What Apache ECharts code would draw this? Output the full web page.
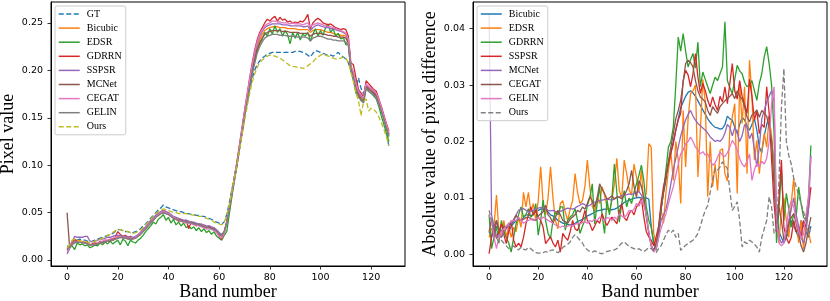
<!DOCTYPE html>
<html><head><meta charset="utf-8">
<script src="https://cdn.jsdelivr.net/npm/echarts@6/dist/echarts.min.js"></script>
<style>html,body{margin:0;padding:0;background:#fff}#c{width:830px;height:301px}</style>
</head><body><div id="c"></div>
<script>
// ---------- tick labels ----------
const xTicks = [0, 20, 40, 60, 80, 100, 120];
const leftYTicks = [0, 0.05, 0.10, 0.15, 0.20, 0.25];
const rightYTicks = [0, 0.01, 0.02, 0.03, 0.04];

// ---------- left panel: pixel value per band (bands 0..127) ----------
const leftNames = ['GT', 'Bicubic', 'EDSR', 'GDRRN', 'SSPSR', 'MCNet', 'CEGAT', 'GELIN', 'Ours'];
const gtL = [
0.015,0.013,0.019,0.022,0.021,0.022,0.021,0.021,0.020,0.019,
0.020,0.021,0.022,0.023,0.024,0.025,0.026,0.027,0.028,0.030,
0.032,0.032,0.031,0.030,0.030,0.029,0.029,0.030,0.031,0.033,
0.036,0.038,0.041,0.044,0.047,0.050,0.053,0.055,0.058,0.056,
0.055,0.054,0.053,0.052,0.051,0.051,0.050,0.049,0.049,0.048,
0.048,0.047,0.047,0.046,0.046,0.045,0.044,0.043,0.041,0.040,
0.039,0.038,0.040,0.048,0.060,0.074,0.088,0.102,0.118,0.134,
0.150,0.165,0.179,0.191,0.200,0.206,0.210,0.213,0.215,0.217,
0.218,0.219,0.219,0.219,0.219,0.219,0.219,0.219,0.219,0.219,
0.220,0.220,0.220,0.219,0.218,0.216,0.214,0.218,0.221,0.220,
0.219,0.218,0.217,0.216,0.216,0.215,0.217,0.219,0.216,0.214,
0.212,0.208,0.200,0.190,0.182,0.192,0.181,0.175,0.186,0.182,
0.179,0.176,0.171,0.165,0.158,0.150,0.137,0.119];
const bicubicL = [
0.011,0.014,0.018,0.020,0.021,0.020,0.019,0.019,0.018,0.016,
0.016,0.017,0.018,0.019,0.019,0.020,0.021,0.021,0.022,0.023,
0.025,0.025,0.024,0.024,0.023,0.023,0.023,0.024,0.026,0.028,
0.031,0.034,0.037,0.040,0.043,0.046,0.048,0.050,0.051,0.050,
0.049,0.047,0.045,0.044,0.043,0.042,0.041,0.041,0.040,0.040,
0.039,0.038,0.038,0.037,0.036,0.035,0.035,0.034,0.033,0.031,
0.028,0.026,0.030,0.040,0.055,0.070,0.086,0.101,0.119,0.136,
0.153,0.169,0.186,0.201,0.214,0.225,0.232,0.238,0.242,0.244,
0.245,0.246,0.246,0.246,0.245,0.245,0.245,0.244,0.244,0.244,
0.244,0.243,0.243,0.243,0.243,0.243,0.240,0.242,0.243,0.243,
0.243,0.242,0.241,0.240,0.240,0.239,0.238,0.238,0.237,0.237,
0.236,0.231,0.203,0.195,0.183,0.176,0.172,0.170,0.184,0.181,
0.179,0.177,0.174,0.167,0.159,0.150,0.141,0.132];
const edsrL = [
0.010,0.013,0.015,0.011,0.018,0.016,0.017,0.015,0.016,0.013,
0.014,0.016,0.015,0.018,0.016,0.019,0.017,0.020,0.017,0.019,
0.021,0.016,0.022,0.020,0.015,0.021,0.019,0.018,0.021,0.023,
0.026,0.030,0.033,0.036,0.040,0.038,0.043,0.045,0.048,0.042,
0.045,0.039,0.043,0.037,0.040,0.036,0.039,0.034,0.036,0.033,
0.035,0.031,0.034,0.030,0.033,0.029,0.031,0.027,0.030,0.025,
0.023,0.021,0.026,0.030,0.048,0.066,0.083,0.099,0.117,0.134,
0.151,0.167,0.183,0.197,0.209,0.220,0.228,0.233,0.240,0.236,
0.244,0.238,0.247,0.240,0.244,0.236,0.242,0.238,0.228,0.240,
0.234,0.240,0.232,0.238,0.236,0.240,0.231,0.238,0.244,0.236,
0.242,0.237,0.245,0.249,0.240,0.244,0.236,0.239,0.233,0.235,
0.227,0.228,0.200,0.190,0.176,0.174,0.169,0.166,0.181,0.178,
0.176,0.173,0.170,0.162,0.152,0.143,0.134,0.125];
const gdrrnL = [
0.012,0.015,0.019,0.022,0.019,0.020,0.019,0.018,0.019,0.016,
0.017,0.018,0.017,0.020,0.019,0.021,0.020,0.022,0.021,0.024,
0.030,0.027,0.025,0.026,0.024,0.025,0.023,0.024,0.026,0.029,
0.032,0.035,0.038,0.041,0.044,0.047,0.049,0.051,0.052,0.051,
0.049,0.047,0.044,0.043,0.041,0.043,0.040,0.042,0.033,0.040,
0.039,0.036,0.038,0.036,0.035,0.033,0.036,0.033,0.034,0.030,
0.025,0.022,0.029,0.040,0.056,0.072,0.087,0.103,0.121,0.139,
0.157,0.174,0.191,0.207,0.221,0.232,0.240,0.245,0.250,0.254,
0.252,0.255,0.257,0.252,0.256,0.253,0.254,0.251,0.252,0.250,
0.251,0.250,0.252,0.251,0.254,0.259,0.244,0.250,0.253,0.255,
0.253,0.250,0.249,0.248,0.249,0.247,0.245,0.244,0.243,0.244,
0.243,0.236,0.208,0.206,0.192,0.180,0.176,0.172,0.189,0.186,
0.183,0.180,0.178,0.170,0.162,0.153,0.144,0.136];
const sspsrL = [
0.0065,0.012,0.019,0.025,0.024,0.024,0.024,0.025,0.025,0.020,
0.019,0.020,0.021,0.022,0.022,0.023,0.024,0.024,0.025,0.026,
0.026,0.026,0.025,0.025,0.024,0.024,0.024,0.025,0.027,0.029,
0.032,0.035,0.038,0.042,0.045,0.047,0.049,0.051,0.052,0.051,
0.050,0.048,0.046,0.045,0.044,0.043,0.042,0.042,0.041,0.040,
0.040,0.039,0.038,0.038,0.037,0.036,0.036,0.035,0.034,0.032,
0.029,0.027,0.030,0.040,0.055,0.071,0.086,0.101,0.119,0.136,
0.154,0.171,0.188,0.203,0.217,0.228,0.236,0.241,0.245,0.247,
0.248,0.249,0.249,0.249,0.249,0.248,0.248,0.248,0.247,0.247,
0.247,0.247,0.247,0.246,0.246,0.247,0.242,0.245,0.247,0.248,
0.247,0.246,0.245,0.245,0.244,0.244,0.243,0.242,0.241,0.240,
0.238,0.232,0.204,0.197,0.185,0.177,0.173,0.171,0.185,0.182,
0.180,0.178,0.175,0.168,0.160,0.151,0.142,0.133];
const mcnetL = [
0.050,0.013,0.016,0.018,0.019,0.019,0.018,0.018,0.017,0.016,
0.016,0.016,0.017,0.018,0.018,0.019,0.020,0.020,0.021,0.022,
0.023,0.024,0.023,0.023,0.022,0.022,0.022,0.023,0.025,0.027,
0.030,0.033,0.036,0.039,0.042,0.045,0.047,0.049,0.050,0.049,
0.048,0.046,0.044,0.043,0.042,0.041,0.040,0.040,0.039,0.039,
0.038,0.037,0.037,0.036,0.035,0.034,0.034,0.033,0.032,0.030,
0.027,0.025,0.029,0.039,0.054,0.069,0.085,0.100,0.117,0.134,
0.151,0.167,0.183,0.198,0.211,0.222,0.229,0.234,0.238,0.240,
0.241,0.242,0.242,0.242,0.242,0.241,0.241,0.241,0.240,0.240,
0.240,0.240,0.239,0.239,0.239,0.239,0.236,0.238,0.239,0.239,
0.239,0.238,0.238,0.237,0.237,0.236,0.236,0.235,0.235,0.235,
0.234,0.229,0.202,0.193,0.181,0.174,0.170,0.168,0.183,0.180,
0.178,0.176,0.173,0.166,0.158,0.149,0.140,0.131];
const cegatL = [
0.009,0.013,0.017,0.019,0.020,0.019,0.019,0.018,0.018,0.016,
0.016,0.017,0.018,0.019,0.020,0.021,0.021,0.022,0.023,0.024,
0.024,0.025,0.024,0.024,0.023,0.023,0.023,0.024,0.026,0.028,
0.031,0.034,0.037,0.040,0.043,0.046,0.048,0.050,0.051,0.050,
0.049,0.047,0.045,0.043,0.042,0.041,0.040,0.039,0.039,0.038,
0.037,0.037,0.036,0.035,0.034,0.033,0.033,0.032,0.031,0.029,
0.025,0.023,0.028,0.039,0.055,0.071,0.087,0.102,0.120,0.138,
0.156,0.173,0.190,0.205,0.219,0.230,0.238,0.243,0.247,0.249,
0.250,0.252,0.252,0.251,0.251,0.250,0.250,0.250,0.249,0.250,
0.249,0.249,0.249,0.248,0.249,0.250,0.246,0.248,0.249,0.250,
0.249,0.248,0.247,0.246,0.246,0.245,0.244,0.243,0.242,0.241,
0.239,0.233,0.205,0.198,0.186,0.178,0.174,0.171,0.186,0.183,
0.181,0.179,0.176,0.169,0.161,0.152,0.143,0.134];
const gelinL = [
0.011,0.014,0.017,0.019,0.019,0.019,0.018,0.018,0.017,0.016,
0.016,0.017,0.017,0.018,0.019,0.019,0.020,0.021,0.021,0.022,
0.023,0.024,0.024,0.023,0.023,0.022,0.023,0.023,0.025,0.027,
0.030,0.033,0.036,0.039,0.042,0.045,0.047,0.049,0.050,0.049,
0.048,0.046,0.044,0.043,0.042,0.041,0.041,0.040,0.040,0.039,
0.038,0.038,0.037,0.036,0.035,0.035,0.034,0.033,0.032,0.031,
0.028,0.026,0.030,0.039,0.054,0.069,0.084,0.099,0.116,0.133,
0.150,0.166,0.181,0.195,0.207,0.218,0.225,0.230,0.234,0.236,
0.237,0.238,0.238,0.238,0.237,0.237,0.237,0.236,0.236,0.236,
0.236,0.235,0.235,0.235,0.235,0.234,0.231,0.234,0.235,0.236,
0.236,0.235,0.234,0.233,0.233,0.232,0.232,0.231,0.231,0.231,
0.230,0.226,0.200,0.191,0.179,0.172,0.168,0.166,0.181,0.178,
0.176,0.174,0.171,0.164,0.157,0.148,0.139,0.130];
const oursL = [
0.013,0.016,0.021,0.022,0.021,0.020,0.020,0.020,0.019,0.018,
0.019,0.020,0.021,0.022,0.023,0.024,0.026,0.027,0.029,0.031,
0.032,0.032,0.031,0.031,0.030,0.029,0.028,0.029,0.030,0.032,
0.034,0.037,0.040,0.043,0.046,0.049,0.051,0.053,0.054,0.053,
0.052,0.051,0.050,0.050,0.049,0.049,0.049,0.049,0.048,0.048,
0.047,0.047,0.046,0.046,0.045,0.044,0.043,0.042,0.040,0.039,
0.038,0.037,0.040,0.047,0.058,0.072,0.086,0.100,0.115,0.131,
0.146,0.161,0.175,0.187,0.196,0.203,0.208,0.211,0.213,0.215,
0.216,0.216,0.215,0.214,0.213,0.211,0.209,0.207,0.205,0.204,
0.204,0.203,0.203,0.202,0.203,0.205,0.207,0.209,0.212,0.214,
0.216,0.217,0.216,0.215,0.214,0.213,0.212,0.212,0.213,0.214,
0.213,0.208,0.198,0.188,0.176,0.168,0.152,0.167,0.170,0.157,
0.160,0.159,0.156,0.151,0.145,0.138,0.130,0.121];

// ---------- right panel: absolute difference per band (0..131) ----------
const rightNames = ['Bicubic', 'EDSR', 'GDRRN', 'SSPSR', 'MCNet', 'CEGAT', 'GELIN', 'Ours'];
const bicubicR = [
0.0040,0.0030,0.0050,0.0060,0.0040,0.0030,0.0040,0.0035,0.0040,0.0050,
0.0055,0.0060,0.0065,0.0060,0.0065,0.0070,0.0070,0.0068,0.0072,0.0075,
0.0078,0.0080,0.0080,0.0078,0.0075,0.0070,0.0068,0.0065,0.0060,0.0058,
0.0055,0.0055,0.0053,0.0052,0.0053,0.0055,0.0058,0.0060,0.0062,0.0065,
0.0068,0.0070,0.0072,0.0075,0.0077,0.0078,0.0079,0.0080,0.0080,0.0080,
0.0079,0.0080,0.0082,0.0085,0.0088,0.0092,0.0094,0.0096,0.0098,0.0099,
0.0100,0.0101,0.0100,0.0099,0.0100,0.0098,0.0050,0.0020,0.0015,0.0040,
0.0080,0.0110,0.0130,0.0160,0.0180,0.0200,0.0220,0.0240,0.0260,0.0270,
0.0280,0.0287,0.0290,0.0286,0.0280,0.0272,0.0264,0.0256,0.0248,0.0240,
0.0234,0.0229,0.0225,0.0224,0.0222,0.0223,0.0230,0.0245,0.0240,0.0238,
0.0225,0.0214,0.0230,0.0243,0.0238,0.0228,0.0220,0.0230,0.0240,0.0220,
0.0190,0.0180,0.0210,0.0230,0.0245,0.0200,0.0160,0.0080,0.0040,0.0030,
0.0020,0.0030,0.0040,0.0060,0.0050,0.0040,0.0030,0.0060,0.0050,0.0040,
0.0030,0.0050];
const edsrR = [
0.0030,0.0045,0.0050,0.0105,0.0040,0.0030,0.0060,0.0030,0.0050,0.0030,
0.0048,0.0040,0.0066,0.0048,0.0110,0.0084,0.0110,0.0075,0.0090,0.0060,
0.0095,0.0155,0.0090,0.0070,0.0100,0.0155,0.0100,0.0060,0.0045,0.0090,
0.0095,0.0075,0.0060,0.0080,0.0095,0.0143,0.0110,0.0090,0.0095,0.0120,
0.0167,0.0120,0.0085,0.0075,0.0102,0.0090,0.0120,0.0105,0.0084,0.0075,
0.0096,0.0125,0.0170,0.0113,0.0100,0.0167,0.0143,0.0115,0.0105,0.0160,
0.0137,0.0110,0.0149,0.0084,0.0110,0.0196,0.0190,0.0037,0.0019,0.0040,
0.0080,0.0055,0.0110,0.0150,0.0180,0.0131,0.0200,0.0167,0.0090,0.0255,
0.0155,0.0240,0.0285,0.0290,0.0300,0.0137,0.0220,0.0310,0.0270,0.0102,
0.0200,0.0120,0.0160,0.0113,0.0184,0.0187,0.0143,0.0130,0.0220,0.0243,
0.0267,0.0108,0.0303,0.0232,0.0297,0.0143,0.0344,0.0280,0.0167,0.0202,
0.0143,0.0184,0.0214,0.0190,0.0243,0.0210,0.0150,0.0060,0.0020,0.0080,
0.0100,0.0060,0.0030,0.0090,0.0135,0.0070,0.0020,0.0060,0.0010,0.0050,
0.0040,0.0020];
const gdrrnR = [
0.0070,0.0010,0.0030,0.0050,0.0020,0.0060,0.0040,0.0030,0.0020,0.0004,
0.0030,0.0054,0.0070,0.0084,0.0066,0.0070,0.0081,0.0066,0.0070,0.0090,
0.0034,0.0060,0.0096,0.0060,0.0037,0.0028,0.0060,0.0075,0.0070,0.0084,
0.0084,0.0043,0.0060,0.0066,0.0070,0.0081,0.0060,0.0037,0.0050,0.0060,
0.0087,0.0100,0.0125,0.0054,0.0090,0.0120,0.0070,0.0037,0.0096,0.0070,
0.0100,0.0160,0.0110,0.0057,0.0090,0.0113,0.0084,0.0100,0.0090,0.0110,
0.0125,0.0140,0.0158,0.0130,0.0084,0.0060,0.0048,0.0020,0.0007,0.0030,
0.0080,0.0110,0.0150,0.0190,0.0200,0.0226,0.0300,0.0385,0.0360,0.0391,
0.0360,0.0332,0.0345,0.0356,0.0330,0.0376,0.0297,0.0323,0.0310,0.0297,
0.0285,0.0300,0.0314,0.0308,0.0320,0.0332,0.0412,0.0308,0.0295,0.0285,
0.0310,0.0335,0.0325,0.0320,0.0305,0.0297,0.0300,0.0308,0.0290,0.0273,
0.0303,0.0320,0.0350,0.0368,0.0338,0.0300,0.0214,0.0020,0.0080,0.0150,
0.0060,0.0108,0.0080,0.0048,0.0072,0.0066,0.0119,0.0090,0.0066,0.0060,
0.0100,0.0193];
const sspsrR = [
0.0001,0.0030,0.0054,0.0028,0.0040,0.0054,0.0035,0.0019,0.0040,0.0060,
0.0025,0.0013,0.0020,0.0013,0.0030,0.0054,0.0070,0.0084,0.0070,0.0078,
0.0066,0.0060,0.0048,0.0019,0.0025,0.0031,0.0020,0.0013,0.0025,0.0004,
0.0037,0.0030,0.0025,0.0040,0.0060,0.0045,0.0042,0.0055,0.0060,0.0078,
0.0060,0.0054,0.0042,0.0050,0.0060,0.0055,0.0072,0.0060,0.0051,0.0060,
0.0066,0.0060,0.0054,0.0075,0.0090,0.0065,0.0060,0.0072,0.0078,0.0070,
0.0084,0.0090,0.0099,0.0066,0.0040,0.0031,0.0025,0.0015,0.0031,0.0050,
0.0090,0.0120,0.0140,0.0160,0.0180,0.0196,0.0220,0.0238,0.0250,0.0308,
0.0326,0.0318,0.0297,0.0320,0.0356,0.0314,0.0285,0.0303,0.0290,0.0273,
0.0261,0.0279,0.0265,0.0255,0.0280,0.0270,0.0297,0.0267,0.0303,0.0338,
0.0290,0.0275,0.0308,0.0280,0.0265,0.0250,0.0310,0.0280,0.0238,0.0255,
0.0214,0.0230,0.0225,0.0297,0.0250,0.0167,0.0090,0.0040,0.0100,0.0167,
0.0048,0.0030,0.0019,0.0030,0.0060,0.0040,0.0048,0.0030,0.0060,0.0048,
0.0080,0.0119];
const mcnetR = [
0.0426,0.0070,0.0050,0.0030,0.0035,0.0030,0.0040,0.0045,0.0050,0.0055,
0.0062,0.0070,0.0078,0.0080,0.0081,0.0078,0.0075,0.0076,0.0078,0.0080,
0.0082,0.0083,0.0082,0.0080,0.0078,0.0077,0.0078,0.0076,0.0075,0.0076,
0.0078,0.0080,0.0082,0.0081,0.0080,0.0082,0.0085,0.0087,0.0090,0.0088,
0.0085,0.0087,0.0090,0.0092,0.0094,0.0095,0.0096,0.0097,0.0098,0.0097,
0.0096,0.0098,0.0100,0.0102,0.0104,0.0105,0.0106,0.0107,0.0106,0.0108,
0.0110,0.0111,0.0105,0.0095,0.0070,0.0040,0.0015,0.0007,0.0015,0.0035,
0.0060,0.0070,0.0080,0.0100,0.0125,0.0150,0.0170,0.0190,0.0210,0.0225,
0.0238,0.0248,0.0255,0.0245,0.0238,0.0232,0.0228,0.0224,0.0220,0.0215,
0.0208,0.0204,0.0200,0.0202,0.0200,0.0205,0.0215,0.0230,0.0225,0.0210,
0.0225,0.0215,0.0200,0.0210,0.0230,0.0225,0.0205,0.0215,0.0185,0.0155,
0.0190,0.0240,0.0255,0.0270,0.0280,0.0290,0.0270,0.0060,0.0030,0.0020,
0.0025,0.0040,0.0060,0.0080,0.0100,0.0070,0.0050,0.0030,0.0020,0.0040,
0.0080,0.0175];
const cegatR = [
0.0040,0.0063,0.0030,0.0060,0.0043,0.0040,0.0050,0.0047,0.0055,0.0052,
0.0060,0.0069,0.0062,0.0060,0.0062,0.0065,0.0066,0.0063,0.0062,0.0060,
0.0068,0.0072,0.0075,0.0087,0.0070,0.0065,0.0055,0.0065,0.0078,0.0070,
0.0060,0.0058,0.0055,0.0062,0.0066,0.0070,0.0078,0.0075,0.0084,0.0080,
0.0090,0.0102,0.0095,0.0084,0.0100,0.0125,0.0115,0.0108,0.0098,0.0100,
0.0104,0.0098,0.0102,0.0101,0.0098,0.0105,0.0113,0.0125,0.0149,0.0120,
0.0101,0.0131,0.0120,0.0101,0.0066,0.0037,0.0015,0.0007,0.0020,0.0045,
0.0080,0.0110,0.0140,0.0165,0.0190,0.0214,0.0240,0.0255,0.0273,0.0305,
0.0338,0.0344,0.0340,0.0332,0.0308,0.0290,0.0279,0.0275,0.0270,0.0255,
0.0246,0.0262,0.0255,0.0250,0.0262,0.0267,0.0272,0.0276,0.0280,0.0285,
0.0276,0.0290,0.0280,0.0275,0.0262,0.0243,0.0235,0.0247,0.0250,0.0256,
0.0243,0.0255,0.0250,0.0245,0.0225,0.0202,0.0120,0.0050,0.0084,0.0060,
0.0025,0.0030,0.0054,0.0065,0.0072,0.0055,0.0037,0.0015,0.0004,0.0020,
0.0045,0.0066];
const gelinR = [
0.0070,0.0060,0.0030,0.0010,0.0030,0.0040,0.0045,0.0050,0.0055,0.0058,
0.0060,0.0060,0.0065,0.0060,0.0055,0.0058,0.0060,0.0062,0.0060,0.0063,
0.0065,0.0062,0.0066,0.0064,0.0060,0.0058,0.0055,0.0052,0.0050,0.0048,
0.0050,0.0048,0.0050,0.0052,0.0050,0.0053,0.0055,0.0054,0.0056,0.0058,
0.0055,0.0060,0.0058,0.0062,0.0060,0.0066,0.0063,0.0060,0.0065,0.0064,
0.0060,0.0066,0.0062,0.0072,0.0068,0.0065,0.0070,0.0078,0.0076,0.0080,
0.0090,0.0085,0.0096,0.0088,0.0070,0.0040,0.0015,0.0004,0.0010,0.0030,
0.0045,0.0060,0.0072,0.0090,0.0105,0.0120,0.0140,0.0160,0.0178,0.0185,
0.0196,0.0200,0.0208,0.0200,0.0190,0.0185,0.0178,0.0182,0.0176,0.0178,
0.0167,0.0158,0.0162,0.0172,0.0181,0.0176,0.0173,0.0180,0.0190,0.0202,
0.0195,0.0185,0.0170,0.0160,0.0155,0.0165,0.0178,0.0131,0.0150,0.0161,
0.0155,0.0165,0.0160,0.0170,0.0200,0.0267,0.0297,0.0060,0.0020,0.0015,
0.0020,0.0050,0.0080,0.0095,0.0085,0.0060,0.0040,0.0030,0.0035,0.0070,
0.0100,0.0173];
const oursR = [
0.0078,0.0060,0.0040,0.0030,0.0020,0.0025,0.0020,0.0015,0.0010,0.0012,
0.0015,0.0010,0.0008,0.0012,0.0009,0.0008,0.0012,0.0010,0.0006,0.0003,
0.0002,0.0002,0.0003,0.0005,0.0003,0.0007,0.0008,0.0005,0.0003,0.0006,
0.0012,0.0015,0.0018,0.0022,0.0030,0.0035,0.0030,0.0025,0.0020,0.0012,
0.0008,0.0005,0.0004,0.0006,0.0004,0.0002,0.0001,0.0003,0.0005,0.0006,
0.0007,0.0008,0.0010,0.0015,0.0020,0.0022,0.0018,0.0014,0.0012,0.0010,
0.0008,0.0010,0.0007,0.0005,0.0008,0.0012,0.0010,0.0006,0.0003,0.0010,
0.0015,0.0025,0.0035,0.0043,0.0038,0.0043,0.0030,0.0037,0.0007,0.0012,
0.0016,0.0019,0.0022,0.0025,0.0030,0.0037,0.0050,0.0065,0.0078,0.0087,
0.0110,0.0131,0.0152,0.0149,0.0155,0.0164,0.0158,0.0152,0.0113,0.0078,
0.0085,0.0093,0.0060,0.0013,0.0022,0.0019,0.0025,0.0022,0.0018,0.0013,
0.0004,0.0030,0.0045,0.0060,0.0102,0.0084,0.0037,0.0045,0.0130,0.0260,
0.0329,0.0200,0.0175,0.0160,0.0135,0.0120,0.0105,0.0090,0.0075,0.0060,
0.0050,0.0043];

// ---------- styling ----------
const leftData = [gtL, bicubicL, edsrL, gdrrnL, sspsrL, mcnetL, cegatL, gelinL, oursL];
const leftColors = ['#1f77b4','#ff7f0e','#2ca02c','#d62728','#9467bd','#8c564b','#e377c2','#7f7f7f','#bcbd22'];
const leftDashed = [true,false,false,false,false,false,false,false,true];
const rightData = [bicubicR, edsrR, gdrrnR, sspsrR, mcnetR, cegatR, gelinR, oursR];
const rightColors = ['#1f77b4','#ff7f0e','#2ca02c','#d62728','#9467bd','#8c564b','#e377c2','#7f7f7f'];
const rightDashed = [false,false,false,false,false,false,false,true];
const PREFIX = 'R\u00b7';

const tickFont = {fontFamily: 'DejaVu Sans', fontSize: 9.5, color: '#000'};
const serif = 'Liberation Serif';

function pts(arr) { return arr.map((v, i) => [i, v]); }
function mkSeries(name, arr, color, dashed, axis) {
  return {
    name: name, type: 'line', xAxisIndex: axis, yAxisIndex: axis,
    data: pts(arr), symbol: 'none', showSymbol: false,
    lineStyle: {color: color, width: 1.3, type: dashed ? [5, 2.5] : 'solid'},
    itemStyle: {color: color},
    emphasis: {disabled: true}, silent: true, animation: false
  };
}
const series = [];
leftData.forEach((a, k) => series.push(mkSeries(leftNames[k], a, leftColors[k], leftDashed[k], 0)));
rightData.forEach((a, k) => series.push(mkSeries(PREFIX + rightNames[k], a, rightColors[k], rightDashed[k], 1)));

function xAxis(idx, min, max) {
  return {
    type: 'value', gridIndex: idx, min: min, max: max,
    name: 'Band number', nameLocation: 'middle', nameGap: 17, nameMoveOverlap: false,
    nameTextStyle: {fontFamily: serif, fontSize: 18, color: '#000'},
    axisLine: {show: true, onZero: false, lineStyle: {color: '#000', width: 1}},
    axisTick: {show: true, length: 3.5, customValues: xTicks, lineStyle: {color: '#000', width: 0.8}},
    axisLabel: {show: true, customValues: xTicks, margin: 7, ...tickFont},
    splitLine: {show: false}
  };
}
function yAxis(idx, min, max, ticks, name, gap) {
  return {
    type: 'value', gridIndex: idx, min: min, max: max,
    name: name, nameLocation: 'middle', nameGap: gap, nameMoveOverlap: false,
    nameTextStyle: {fontFamily: serif, fontSize: 18, color: '#000'},
    axisLine: {show: true, onZero: false, lineStyle: {color: '#000', width: 1}},
    axisTick: {show: true, length: 3.5, customValues: ticks, lineStyle: {color: '#000', width: 0.8}},
    axisLabel: {show: true, customValues: ticks, margin: 8, formatter: v => v.toFixed(2), ...tickFont},
    splitLine: {show: false}
  };
}
function legend(left, top, names, fmt) {
  return {
    orient: 'vertical', left: left, top: top, data: names,
    itemWidth: 21, itemHeight: 10, itemGap: 4.1,
    padding: [3, 4, 3, 3],
    backgroundColor: 'rgba(255,255,255,0.8)', borderColor: '#cccccc', borderWidth: 1, borderRadius: 2,
    itemStyle: {opacity: 0}, lineStyle: {width: 1.5},
    textStyle: {fontFamily: serif, fontSize: 10, color: '#000', padding: [0, 0, 0, 2]},
    formatter: fmt, selectedMode: false
  };
}

const chart = echarts.init(document.getElementById('c'), null, {renderer: 'canvas'});
chart.setOption({
  animation: false,
  backgroundColor: '#fff',
  grid: [
    {left: 51, top: 2, width: 354, height: 264, show: true, borderColor: '#000', borderWidth: 1,
     backgroundColor: 'transparent', containLabel: false, outerBoundsMode: 'none'},
    {left: 473, top: 2, width: 354, height: 264, show: true, borderColor: '#000', borderWidth: 1,
     backgroundColor: 'transparent', containLabel: false, outerBoundsMode: 'none'}
  ],
  xAxis: [xAxis(0, -6.35, 133.35), xAxis(1, -6.55, 137.55)],
  yAxis: [
    yAxis(0, -0.0063, 0.2721, leftYTicks, 'Pixel value', 34),
    yAxis(1, -0.00207, 0.04472, rightYTicks, 'Absolute value of pixel difference', 34)
  ],
  legend: [
    legend(55, 6, leftNames, n => n),
    legend(477, 6, rightNames.map(n => PREFIX + n), n => n.replace(PREFIX, ''))
  ],
  series: series
});
</script></body></html>
